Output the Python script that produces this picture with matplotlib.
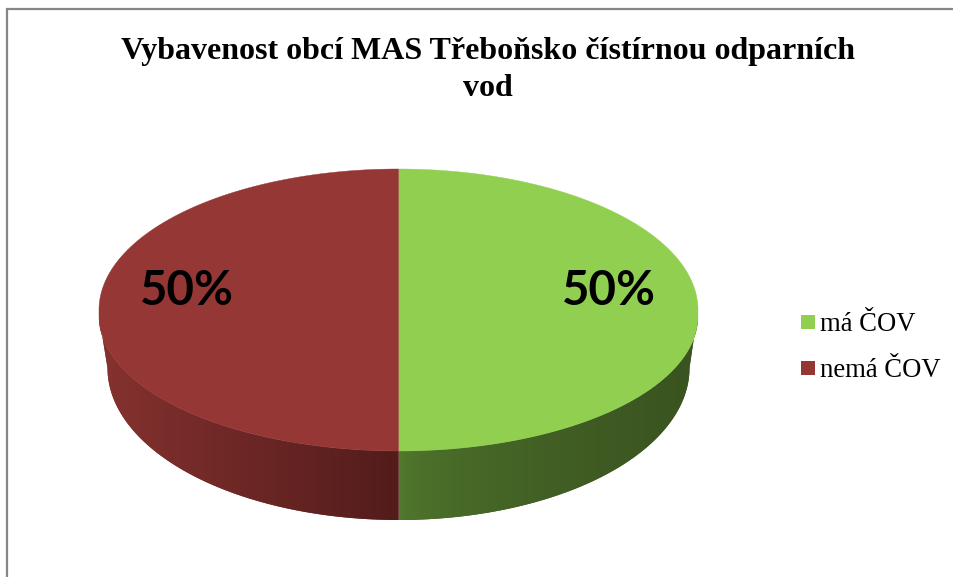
import numpy as np
import matplotlib
matplotlib.use("Agg")
import matplotlib.pyplot as plt
from matplotlib.patches import Polygon, Rectangle

# hodnoty z grafu
kategorie = ["má ČOV", "nemá ČOV"]
podily = [50, 50]
popisky = ["50%", "50%"]
titulek = "Vybavenost obcí MAS Třeboňsko čístírnou odparních\nvod"

barvy = ["#90cf50", "#953735"]
# stena: barva u predni hrany -> barva na boku
stena_zelena = ["#527a2e", "#3a5320"]
stena_cervena = ["#521c1b", "#85322f"]
exponent = [0.55, 1.0]

W, H = 954, 577
fig = plt.figure(figsize=(W / 100, H / 100), dpi=100, facecolor="white")
ax = fig.add_axes([0, 0, 1, 1])
ax.set_xlim(0, W)
ax.set_ylim(H, 0)
ax.axis("off")

# ramecek grafu
ax.plot([7.5, 7.5, W], [H, 8.5, 8.5], color="#868686", lw=1.6, solid_joinstyle="miter")

cx, cy, a, b = 398.5, 310, 299.5, 141


def vrch(t):
    # horni plocha, spodni pulka je trochu posunuta dolu (perspektiva)
    c = -np.cos(t)
    x = cx + a * np.sin(t)
    y = np.where(c < 0, cy + b * c, cy + 6 + 135 * c)
    return x, y


def spodek(t):
    # vnejsi hrana steny
    return cx + 291 * np.sin(t), 368 + 152 * -np.cos(t)


def gradient(c1, c2, x0, x1, y0, y1, clip, e):
    c1 = np.array(matplotlib.colors.to_rgb(c1))
    c2 = np.array(matplotlib.colors.to_rgb(c2))
    s = np.linspace(0, 1, 256)[None, :, None] ** e
    img = c1 + (c2 - c1) * s
    im = ax.imshow(img, extent=[x0, x1, y1, y0], aspect="auto", zorder=1, interpolation="bilinear")
    im.set_clip_path(clip)


# steny a vrchni plocha se pocitaji z podilu
konce = np.cumsum(podily) / np.sum(podily) * 2 * np.pi
zacatky = np.r_[0, konce[:-1]]
steny = [stena_zelena, stena_cervena]

for i, (z, k) in enumerate(zip(zacatky, konce)):
    # spodni viditelna cast obvodu
    t = np.linspace(max(z, np.pi / 2), min(k, 3 * np.pi / 2), 200)
    hx, hy = vrch(t)
    dx, dy = spodek(t)
    body = np.r_[np.c_[hx, hy], np.c_[dx[::-1], dy[::-1]]]
    sten = Polygon(body, closed=True, fc=steny[i][1], ec="none", zorder=0.5)
    ax.add_patch(sten)
    x0, x1 = body[:, 0].min(), body[:, 0].max()
    if i == 0:
        gradient(steny[i][0], steny[i][1], x0, x1, cy, 520, sten, exponent[i])
    else:
        gradient(steny[i][0], steny[i][1], x1, x0, cy, 520, sten, exponent[i])

for i, (z, k) in enumerate(zip(zacatky, konce)):
    t = np.linspace(z, k, 300)
    hx, hy = vrch(t)
    body = np.r_[[[cx, cy]], np.c_[hx, hy]]
    ax.add_patch(Polygon(body, closed=True, fc=barvy[i], ec=barvy[i], lw=0.3, zorder=2))

ax.set_xlim(0, W)
ax.set_ylim(H, 0)

ax.text(488, 70, titulek, ha="center", va="center", family="Liberation Serif",
        weight="bold", fontsize=23, color="black", linespacing=1.37)

pozice = [(609, 291), (186.5, 291)]
for (x, y), p in zip(pozice, popisky):
    ax.text(x, y, p, ha="center", va="center", family="Lato", weight="bold",
            fontsize=34.2, color="black", zorder=3)

# legenda
leg_y = [322, 368]
for y, k, c in zip(leg_y, kategorie, barvy):
    ax.add_patch(Rectangle((801, y - 7), 14, 14, fc=c, ec="none"))
    ax.text(820, y + 9, k, ha="left", va="baseline", family="Liberation Serif",
            fontsize=19.2, color="black")

fig.savefig("out.png", dpi=100)
